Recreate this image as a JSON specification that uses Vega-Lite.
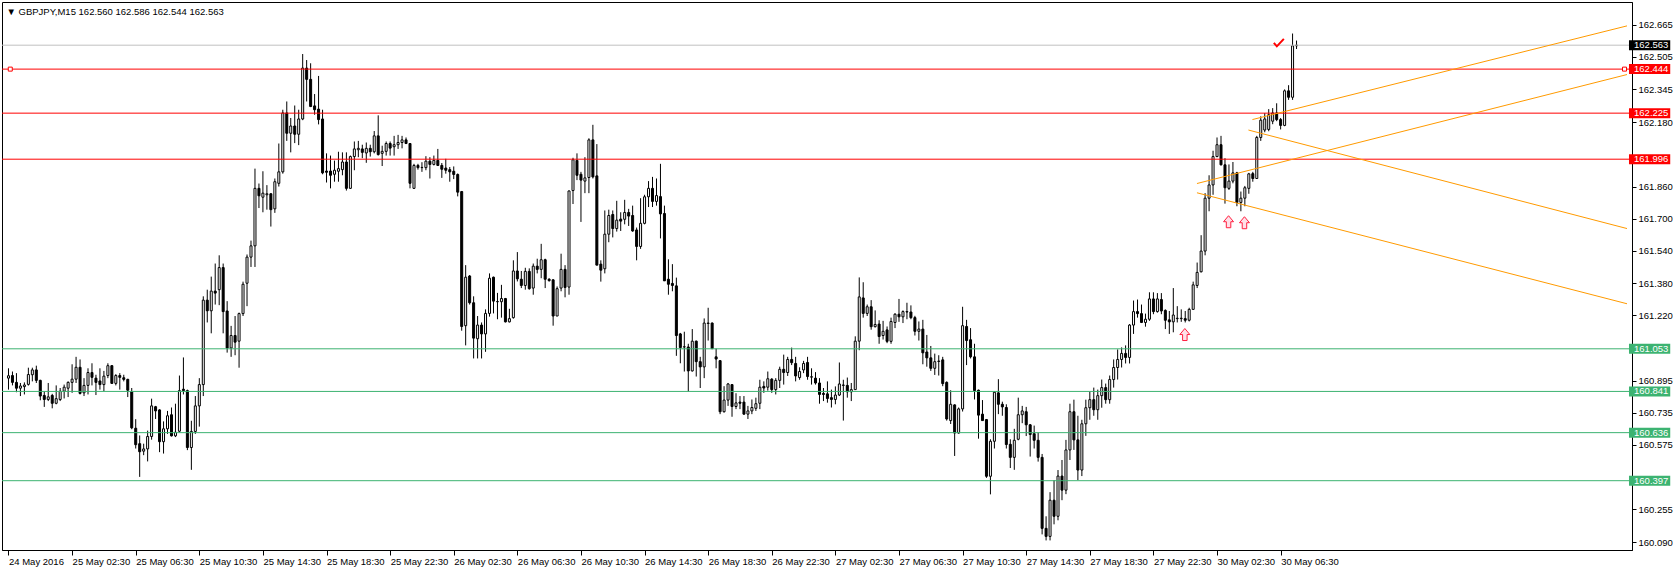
{
  "$schema": "https://vega.github.io/schema/vega-lite/v6.json",
  "width": 1630,
  "height": 548,
  "autosize": {"type": "none"},
  "padding": {"left": 2, "top": 2, "right": 43, "bottom": 21},
  "background": "white",
  "config": {"view": {"stroke": "black", "strokeWidth": 1}, "font": "Liberation Sans"},
  "title": {"text": "▼ GBPJPY,M15  162.560 162.586 162.544 162.563", "anchor": "start", "frame": "group", "orient": "top", "offset": -9, "dy": 10, "dx": 4.5, "baseline": "middle", "font": "Liberation Sans", "fontSize": 9.5, "fontWeight": "normal", "color": "black"},
  "datasets": {
    "candles": [
{"i":0,"o":160.907,"h":160.956,"l":160.850,"c":160.919},
{"i":1,"o":160.920,"h":160.940,"l":160.871,"c":160.886},
{"i":2,"o":160.886,"h":160.932,"l":160.837,"c":160.857},
{"i":3,"o":160.857,"h":160.883,"l":160.818,"c":160.868},
{"i":4,"o":160.865,"h":160.886,"l":160.826,"c":160.873},
{"i":5,"o":160.876,"h":160.959,"l":160.870,"c":160.925},
{"i":6,"o":160.924,"h":160.959,"l":160.891,"c":160.948},
{"i":7,"o":160.948,"h":160.969,"l":160.883,"c":160.896},
{"i":8,"o":160.896,"h":160.899,"l":160.797,"c":160.818},
{"i":9,"o":160.821,"h":160.842,"l":160.764,"c":160.801},
{"i":10,"o":160.801,"h":160.883,"l":160.793,"c":160.814},
{"i":11,"o":160.821,"h":160.829,"l":160.757,"c":160.782},
{"i":12,"o":160.782,"h":160.871,"l":160.777,"c":160.805},
{"i":13,"o":160.801,"h":160.858,"l":160.793,"c":160.842},
{"i":14,"o":160.842,"h":160.875,"l":160.806,"c":160.862},
{"i":15,"o":160.857,"h":160.891,"l":160.813,"c":160.886},
{"i":16,"o":160.886,"h":160.976,"l":160.834,"c":160.902},
{"i":17,"o":160.902,"h":161.013,"l":160.883,"c":160.961},
{"i":18,"o":160.961,"h":161.000,"l":160.826,"c":160.831},
{"i":19,"o":160.834,"h":160.907,"l":160.818,"c":160.871},
{"i":20,"o":160.871,"h":160.956,"l":160.826,"c":160.935},
{"i":21,"o":160.935,"h":160.981,"l":160.871,"c":160.911},
{"i":22,"o":160.907,"h":160.924,"l":160.823,"c":160.886},
{"i":23,"o":160.893,"h":160.956,"l":160.850,"c":160.875},
{"i":24,"o":160.875,"h":160.943,"l":160.842,"c":160.917},
{"i":25,"o":160.920,"h":160.981,"l":160.907,"c":160.969},
{"i":26,"o":160.969,"h":160.972,"l":160.878,"c":160.881},
{"i":27,"o":160.881,"h":160.927,"l":160.871,"c":160.920},
{"i":28,"o":160.920,"h":160.932,"l":160.850,"c":160.911},
{"i":29,"o":160.909,"h":160.924,"l":160.891,"c":160.901},
{"i":30,"o":160.901,"h":160.904,"l":160.813,"c":160.847},
{"i":31,"o":160.839,"h":160.858,"l":160.653,"c":160.660},
{"i":32,"o":160.658,"h":160.703,"l":160.557,"c":160.576},
{"i":33,"o":160.581,"h":160.622,"l":160.416,"c":160.541},
{"i":34,"o":160.544,"h":160.581,"l":160.524,"c":160.555},
{"i":35,"o":160.555,"h":160.646,"l":160.493,"c":160.617},
{"i":36,"o":160.617,"h":160.805,"l":160.601,"c":160.769},
{"i":37,"o":160.765,"h":160.769,"l":160.704,"c":160.744},
{"i":38,"o":160.749,"h":160.752,"l":160.539,"c":160.591},
{"i":39,"o":160.591,"h":160.692,"l":160.532,"c":160.655},
{"i":40,"o":160.655,"h":160.744,"l":160.630,"c":160.720},
{"i":41,"o":160.725,"h":160.761,"l":160.617,"c":160.620},
{"i":42,"o":160.620,"h":160.780,"l":160.614,"c":160.638},
{"i":43,"o":160.643,"h":160.920,"l":160.638,"c":160.845},
{"i":44,"o":160.852,"h":161.010,"l":160.826,"c":160.845},
{"i":45,"o":160.845,"h":160.850,"l":160.549,"c":160.562},
{"i":46,"o":160.562,"h":160.695,"l":160.451,"c":160.642},
{"i":47,"o":160.642,"h":160.818,"l":160.630,"c":160.769},
{"i":48,"o":160.769,"h":160.907,"l":160.666,"c":160.875},
{"i":49,"o":160.875,"h":161.314,"l":160.818,"c":161.295},
{"i":50,"o":161.295,"h":161.347,"l":161.184,"c":161.242},
{"i":51,"o":161.242,"h":161.412,"l":161.130,"c":161.340},
{"i":52,"o":161.340,"h":161.477,"l":161.273,"c":161.330},
{"i":53,"o":161.347,"h":161.518,"l":161.270,"c":161.457},
{"i":54,"o":161.457,"h":161.477,"l":161.130,"c":161.238},
{"i":55,"o":161.241,"h":161.290,"l":161.034,"c":161.057},
{"i":56,"o":161.057,"h":161.167,"l":161.013,"c":161.119},
{"i":57,"o":161.119,"h":161.216,"l":161.021,"c":161.086},
{"i":58,"o":161.091,"h":161.233,"l":160.959,"c":161.228},
{"i":59,"o":161.228,"h":161.387,"l":161.216,"c":161.374},
{"i":60,"o":161.379,"h":161.522,"l":161.265,"c":161.509},
{"i":61,"o":161.509,"h":161.591,"l":161.460,"c":161.565},
{"i":62,"o":161.565,"h":161.949,"l":161.460,"c":161.851},
{"i":63,"o":161.851,"h":161.875,"l":161.753,"c":161.814},
{"i":64,"o":161.807,"h":161.936,"l":161.732,"c":161.827},
{"i":65,"o":161.819,"h":161.867,"l":161.745,"c":161.824},
{"i":66,"o":161.824,"h":161.827,"l":161.661,"c":161.745},
{"i":67,"o":161.749,"h":161.900,"l":161.729,"c":161.884},
{"i":68,"o":161.876,"h":162.074,"l":161.860,"c":161.933},
{"i":69,"o":161.933,"h":162.242,"l":161.924,"c":162.226},
{"i":70,"o":162.226,"h":162.283,"l":162.087,"c":162.125},
{"i":71,"o":162.125,"h":162.201,"l":162.030,"c":162.161},
{"i":72,"o":162.161,"h":162.263,"l":162.076,"c":162.120},
{"i":73,"o":162.120,"h":162.242,"l":162.066,"c":162.196},
{"i":74,"o":162.196,"h":162.519,"l":162.190,"c":162.449},
{"i":75,"o":162.449,"h":162.489,"l":162.283,"c":162.393},
{"i":76,"o":162.393,"h":162.473,"l":162.255,"c":162.258},
{"i":77,"o":162.261,"h":162.320,"l":162.217,"c":162.242},
{"i":78,"o":162.245,"h":162.410,"l":162.169,"c":162.193},
{"i":79,"o":162.196,"h":162.242,"l":161.921,"c":161.928},
{"i":80,"o":161.937,"h":162.025,"l":161.880,"c":161.931},
{"i":81,"o":161.937,"h":162.014,"l":161.851,"c":161.916},
{"i":82,"o":161.921,"h":161.989,"l":161.884,"c":161.941},
{"i":83,"o":161.936,"h":162.033,"l":161.884,"c":161.949},
{"i":84,"o":161.944,"h":162.030,"l":161.916,"c":161.982},
{"i":85,"o":161.982,"h":162.030,"l":161.840,"c":161.851},
{"i":86,"o":161.851,"h":162.014,"l":161.848,"c":162.009},
{"i":87,"o":162.009,"h":162.084,"l":161.941,"c":162.047},
{"i":88,"o":162.043,"h":162.087,"l":162.006,"c":162.050},
{"i":89,"o":162.047,"h":162.068,"l":162.001,"c":162.030},
{"i":90,"o":162.027,"h":162.079,"l":161.978,"c":162.050},
{"i":91,"o":162.050,"h":162.068,"l":162.009,"c":162.033},
{"i":92,"o":162.033,"h":162.136,"l":162.025,"c":162.112},
{"i":93,"o":162.112,"h":162.214,"l":162.014,"c":162.019},
{"i":94,"o":162.025,"h":162.063,"l":161.962,"c":162.035},
{"i":95,"o":162.035,"h":162.084,"l":162.014,"c":162.074},
{"i":96,"o":162.074,"h":162.084,"l":162.014,"c":162.051},
{"i":97,"o":162.058,"h":162.112,"l":162.014,"c":162.068},
{"i":98,"o":162.068,"h":162.117,"l":162.047,"c":162.079},
{"i":99,"o":162.079,"h":162.112,"l":162.050,"c":162.092},
{"i":100,"o":162.092,"h":162.104,"l":162.071,"c":162.074},
{"i":101,"o":162.074,"h":162.074,"l":161.851,"c":161.876},
{"i":102,"o":161.851,"h":161.973,"l":161.848,"c":161.965},
{"i":103,"o":161.965,"h":161.973,"l":161.944,"c":161.954},
{"i":104,"o":161.954,"h":161.981,"l":161.933,"c":161.955},
{"i":105,"o":161.954,"h":162.011,"l":161.941,"c":161.986},
{"i":106,"o":161.986,"h":162.006,"l":161.900,"c":161.970},
{"i":107,"o":161.970,"h":162.014,"l":161.965,"c":161.990},
{"i":108,"o":161.990,"h":162.047,"l":161.962,"c":161.965},
{"i":109,"o":161.965,"h":161.977,"l":161.903,"c":161.946},
{"i":110,"o":161.952,"h":161.998,"l":161.924,"c":161.941},
{"i":111,"o":161.944,"h":161.957,"l":161.884,"c":161.933},
{"i":112,"o":161.936,"h":161.960,"l":161.897,"c":161.920},
{"i":113,"o":161.920,"h":161.925,"l":161.811,"c":161.832},
{"i":114,"o":161.835,"h":161.838,"l":161.143,"c":161.164},
{"i":115,"o":161.168,"h":161.469,"l":161.070,"c":161.409},
{"i":116,"o":161.415,"h":161.420,"l":161.273,"c":161.282},
{"i":117,"o":161.282,"h":161.314,"l":161.005,"c":161.106},
{"i":118,"o":161.103,"h":161.216,"l":161.005,"c":161.171},
{"i":119,"o":161.171,"h":161.184,"l":161.005,"c":161.127},
{"i":120,"o":161.127,"h":161.249,"l":161.038,"c":161.229},
{"i":121,"o":161.229,"h":161.428,"l":161.213,"c":161.404},
{"i":122,"o":161.409,"h":161.412,"l":161.229,"c":161.290},
{"i":123,"o":161.287,"h":161.331,"l":161.200,"c":161.288},
{"i":124,"o":161.287,"h":161.371,"l":161.208,"c":161.303},
{"i":125,"o":161.303,"h":161.306,"l":161.184,"c":161.187},
{"i":126,"o":161.187,"h":161.252,"l":161.184,"c":161.203},
{"i":127,"o":161.208,"h":161.493,"l":161.203,"c":161.440},
{"i":128,"o":161.440,"h":161.534,"l":161.388,"c":161.401},
{"i":129,"o":161.399,"h":161.440,"l":161.355,"c":161.368},
{"i":130,"o":161.368,"h":161.456,"l":161.347,"c":161.438},
{"i":131,"o":161.438,"h":161.453,"l":161.347,"c":161.352},
{"i":132,"o":161.355,"h":161.477,"l":161.322,"c":161.464},
{"i":133,"o":161.464,"h":161.501,"l":161.428,"c":161.448},
{"i":134,"o":161.448,"h":161.575,"l":161.404,"c":161.496},
{"i":135,"o":161.496,"h":161.501,"l":161.355,"c":161.399},
{"i":136,"o":161.399,"h":161.404,"l":161.387,"c":161.392},
{"i":137,"o":161.396,"h":161.399,"l":161.168,"c":161.216},
{"i":138,"o":161.216,"h":161.363,"l":161.216,"c":161.352},
{"i":139,"o":161.355,"h":161.526,"l":161.339,"c":161.448},
{"i":140,"o":161.448,"h":161.469,"l":161.309,"c":161.358},
{"i":141,"o":161.360,"h":161.840,"l":161.322,"c":161.838},
{"i":142,"o":161.840,"h":162.003,"l":161.773,"c":161.993},
{"i":143,"o":161.990,"h":162.025,"l":161.892,"c":161.916},
{"i":144,"o":161.921,"h":161.933,"l":161.684,"c":161.892},
{"i":145,"o":161.887,"h":162.006,"l":161.827,"c":161.903},
{"i":146,"o":161.905,"h":162.100,"l":161.827,"c":162.092},
{"i":147,"o":162.092,"h":162.167,"l":161.900,"c":161.908},
{"i":148,"o":161.913,"h":162.071,"l":161.469,"c":161.469},
{"i":149,"o":161.474,"h":161.493,"l":161.387,"c":161.444},
{"i":150,"o":161.451,"h":161.741,"l":161.428,"c":161.623},
{"i":151,"o":161.623,"h":161.745,"l":161.583,"c":161.716},
{"i":152,"o":161.721,"h":161.741,"l":161.607,"c":161.651},
{"i":153,"o":161.651,"h":161.789,"l":161.636,"c":161.693},
{"i":154,"o":161.698,"h":161.732,"l":161.639,"c":161.688},
{"i":155,"o":161.697,"h":161.794,"l":161.672,"c":161.731},
{"i":156,"o":161.731,"h":161.749,"l":161.664,"c":161.713},
{"i":157,"o":161.716,"h":161.765,"l":161.635,"c":161.639},
{"i":158,"o":161.644,"h":161.656,"l":161.493,"c":161.562},
{"i":159,"o":161.562,"h":161.802,"l":161.550,"c":161.677},
{"i":160,"o":161.677,"h":161.819,"l":161.672,"c":161.809},
{"i":161,"o":161.809,"h":161.887,"l":161.758,"c":161.851},
{"i":162,"o":161.851,"h":161.908,"l":161.758,"c":161.786},
{"i":163,"o":161.786,"h":161.900,"l":161.765,"c":161.815},
{"i":164,"o":161.810,"h":161.973,"l":161.602,"c":161.724},
{"i":165,"o":161.726,"h":161.765,"l":161.391,"c":161.391},
{"i":166,"o":161.399,"h":161.498,"l":161.322,"c":161.374},
{"i":167,"o":161.378,"h":161.474,"l":161.339,"c":161.368},
{"i":168,"o":161.366,"h":161.407,"l":161.018,"c":161.119},
{"i":169,"o":161.127,"h":161.132,"l":160.981,"c":161.059},
{"i":170,"o":161.062,"h":161.138,"l":160.940,"c":161.063},
{"i":171,"o":161.062,"h":161.078,"l":160.840,"c":160.943},
{"i":172,"o":160.943,"h":161.151,"l":160.940,"c":161.091},
{"i":173,"o":161.091,"h":161.094,"l":160.915,"c":160.989},
{"i":174,"o":160.989,"h":161.013,"l":160.858,"c":160.963},
{"i":175,"o":160.963,"h":161.204,"l":160.907,"c":161.181},
{"i":176,"o":161.179,"h":161.257,"l":161.094,"c":161.181},
{"i":177,"o":161.181,"h":161.184,"l":161.051,"c":161.054},
{"i":178,"o":161.013,"h":161.054,"l":160.956,"c":161.002},
{"i":179,"o":160.994,"h":160.997,"l":160.728,"c":160.740},
{"i":180,"o":160.740,"h":160.867,"l":160.736,"c":160.798},
{"i":181,"o":160.798,"h":160.883,"l":160.769,"c":160.878},
{"i":182,"o":160.875,"h":160.875,"l":160.715,"c":160.766},
{"i":183,"o":160.766,"h":160.832,"l":160.753,"c":160.784},
{"i":184,"o":160.788,"h":160.818,"l":160.753,"c":160.782},
{"i":185,"o":160.788,"h":160.818,"l":160.725,"c":160.728},
{"i":186,"o":160.728,"h":160.769,"l":160.704,"c":160.744},
{"i":187,"o":160.744,"h":160.801,"l":160.728,"c":160.761},
{"i":188,"o":160.757,"h":160.810,"l":160.744,"c":160.780},
{"i":189,"o":160.782,"h":160.899,"l":160.753,"c":160.862},
{"i":190,"o":160.866,"h":160.891,"l":160.834,"c":160.858},
{"i":191,"o":160.862,"h":160.940,"l":160.845,"c":160.904},
{"i":192,"o":160.902,"h":160.907,"l":160.834,"c":160.850},
{"i":193,"o":160.850,"h":160.907,"l":160.826,"c":160.896},
{"i":194,"o":160.896,"h":160.964,"l":160.858,"c":160.951},
{"i":195,"o":160.951,"h":161.024,"l":160.875,"c":160.935},
{"i":196,"o":160.935,"h":161.013,"l":160.918,"c":161.000},
{"i":197,"o":161.000,"h":161.059,"l":160.972,"c":160.984},
{"i":198,"o":160.980,"h":161.013,"l":160.891,"c":160.918},
{"i":199,"o":160.910,"h":160.961,"l":160.899,"c":160.940},
{"i":200,"o":160.948,"h":160.993,"l":160.932,"c":160.980},
{"i":201,"o":160.985,"h":161.013,"l":160.899,"c":160.915},
{"i":202,"o":160.912,"h":160.956,"l":160.875,"c":160.914},
{"i":203,"o":160.907,"h":160.937,"l":160.875,"c":160.883},
{"i":204,"o":160.883,"h":160.907,"l":160.780,"c":160.826},
{"i":205,"o":160.831,"h":160.858,"l":160.793,"c":160.826},
{"i":206,"o":160.829,"h":160.891,"l":160.785,"c":160.806},
{"i":207,"o":160.810,"h":160.850,"l":160.761,"c":160.801},
{"i":208,"o":160.801,"h":160.866,"l":160.777,"c":160.823},
{"i":209,"o":160.823,"h":160.985,"l":160.818,"c":160.878},
{"i":210,"o":160.871,"h":160.899,"l":160.696,"c":160.873},
{"i":211,"o":160.871,"h":160.910,"l":160.810,"c":160.839},
{"i":212,"o":160.839,"h":160.883,"l":160.793,"c":160.850},
{"i":213,"o":160.850,"h":161.115,"l":160.850,"c":161.091},
{"i":214,"o":161.091,"h":161.408,"l":161.046,"c":161.311},
{"i":215,"o":161.306,"h":161.384,"l":161.208,"c":161.229},
{"i":216,"o":161.229,"h":161.273,"l":161.216,"c":161.262},
{"i":217,"o":161.262,"h":161.295,"l":161.148,"c":161.163},
{"i":218,"o":161.163,"h":161.244,"l":161.159,"c":161.174},
{"i":219,"o":161.176,"h":161.195,"l":161.078,"c":161.114},
{"i":220,"o":161.119,"h":161.192,"l":161.099,"c":161.140},
{"i":221,"o":161.147,"h":161.164,"l":161.081,"c":161.090},
{"i":222,"o":161.090,"h":161.208,"l":161.078,"c":161.189},
{"i":223,"o":161.184,"h":161.230,"l":161.156,"c":161.225},
{"i":224,"o":161.225,"h":161.301,"l":161.187,"c":161.212},
{"i":225,"o":161.212,"h":161.244,"l":161.181,"c":161.238},
{"i":226,"o":161.236,"h":161.282,"l":161.200,"c":161.238},
{"i":227,"o":161.236,"h":161.269,"l":161.200,"c":161.208},
{"i":228,"o":161.208,"h":161.217,"l":161.119,"c":161.140},
{"i":229,"o":161.140,"h":161.189,"l":161.094,"c":161.151},
{"i":230,"o":161.151,"h":161.197,"l":160.976,"c":161.033},
{"i":231,"o":161.037,"h":161.122,"l":160.964,"c":161.008},
{"i":232,"o":161.008,"h":161.067,"l":160.943,"c":160.956},
{"i":233,"o":160.956,"h":161.029,"l":160.923,"c":160.989},
{"i":234,"o":160.990,"h":161.021,"l":160.920,"c":160.992},
{"i":235,"o":160.998,"h":161.013,"l":160.867,"c":160.880},
{"i":236,"o":160.886,"h":160.891,"l":160.696,"c":160.704},
{"i":237,"o":160.696,"h":160.847,"l":160.679,"c":160.777},
{"i":238,"o":160.774,"h":160.777,"l":160.520,"c":160.634},
{"i":239,"o":160.634,"h":160.761,"l":160.631,"c":160.754},
{"i":240,"o":160.754,"h":161.262,"l":160.741,"c":161.168},
{"i":241,"o":161.164,"h":161.197,"l":160.972,"c":161.094},
{"i":242,"o":161.098,"h":161.156,"l":161.005,"c":161.013},
{"i":243,"o":161.013,"h":161.078,"l":160.801,"c":160.845},
{"i":244,"o":160.847,"h":160.850,"l":160.606,"c":160.723},
{"i":245,"o":160.728,"h":160.798,"l":160.696,"c":160.696},
{"i":246,"o":160.701,"h":160.704,"l":160.411,"c":160.419},
{"i":247,"o":160.419,"h":160.603,"l":160.329,"c":160.593},
{"i":248,"o":160.593,"h":160.842,"l":160.557,"c":160.837},
{"i":249,"o":160.834,"h":160.902,"l":160.728,"c":160.777},
{"i":250,"o":160.777,"h":160.790,"l":160.720,"c":160.764},
{"i":251,"o":160.761,"h":160.777,"l":160.557,"c":160.577},
{"i":252,"o":160.578,"h":160.603,"l":160.460,"c":160.513},
{"i":253,"o":160.513,"h":160.655,"l":160.451,"c":160.598},
{"i":254,"o":160.603,"h":160.810,"l":160.598,"c":160.725},
{"i":255,"o":160.725,"h":160.769,"l":160.683,"c":160.744},
{"i":256,"o":160.740,"h":160.764,"l":160.619,"c":160.675},
{"i":257,"o":160.675,"h":160.679,"l":160.517,"c":160.627},
{"i":258,"o":160.631,"h":160.671,"l":160.557,"c":160.598},
{"i":259,"o":160.598,"h":160.636,"l":160.492,"c":160.513},
{"i":260,"o":160.513,"h":160.530,"l":160.130,"c":160.160},
{"i":261,"o":160.160,"h":160.220,"l":160.100,"c":160.120},
{"i":262,"o":160.120,"h":160.340,"l":160.100,"c":160.300},
{"i":263,"o":160.300,"h":160.400,"l":160.180,"c":160.220},
{"i":264,"o":160.220,"h":160.450,"l":160.200,"c":160.420},
{"i":265,"o":160.420,"h":160.500,"l":160.300,"c":160.350},
{"i":266,"o":160.350,"h":160.600,"l":160.330,"c":160.550},
{"i":267,"o":160.550,"h":160.780,"l":160.500,"c":160.740},
{"i":268,"o":160.740,"h":160.800,"l":160.550,"c":160.600},
{"i":269,"o":160.600,"h":160.720,"l":160.400,"c":160.450},
{"i":270,"o":160.450,"h":160.700,"l":160.420,"c":160.680},
{"i":271,"o":160.680,"h":160.800,"l":160.620,"c":160.760},
{"i":272,"o":160.760,"h":160.840,"l":160.700,"c":160.800},
{"i":273,"o":160.800,"h":160.860,"l":160.720,"c":160.750},
{"i":274,"o":160.750,"h":160.850,"l":160.700,"c":160.820},
{"i":275,"o":160.820,"h":160.900,"l":160.760,"c":160.860},
{"i":276,"o":160.860,"h":160.880,"l":160.780,"c":160.800},
{"i":277,"o":160.800,"h":160.920,"l":160.780,"c":160.900},
{"i":278,"o":160.900,"h":161.000,"l":160.860,"c":160.960},
{"i":279,"o":160.960,"h":161.050,"l":160.900,"c":161.000},
{"i":280,"o":161.000,"h":161.060,"l":160.960,"c":161.030},
{"i":281,"o":161.030,"h":161.070,"l":160.980,"c":161.010},
{"i":282,"o":161.010,"h":161.176,"l":160.980,"c":161.171},
{"i":283,"o":161.171,"h":161.293,"l":161.127,"c":161.238},
{"i":284,"o":161.238,"h":161.298,"l":161.208,"c":161.228},
{"i":285,"o":161.228,"h":161.273,"l":161.181,"c":161.184},
{"i":286,"o":161.184,"h":161.228,"l":161.163,"c":161.200},
{"i":287,"o":161.200,"h":161.334,"l":161.192,"c":161.301},
{"i":288,"o":161.301,"h":161.334,"l":161.225,"c":161.238},
{"i":289,"o":161.238,"h":161.330,"l":161.233,"c":161.301},
{"i":290,"o":161.298,"h":161.330,"l":161.225,"c":161.241},
{"i":291,"o":161.244,"h":161.249,"l":161.151,"c":161.195},
{"i":292,"o":161.197,"h":161.241,"l":161.127,"c":161.187},
{"i":293,"o":161.187,"h":161.355,"l":161.135,"c":161.221},
{"i":294,"o":161.203,"h":161.265,"l":161.184,"c":161.205},
{"i":295,"o":161.203,"h":161.249,"l":161.187,"c":161.205},
{"i":296,"o":161.203,"h":161.241,"l":161.184,"c":161.195},
{"i":297,"o":161.195,"h":161.257,"l":161.189,"c":161.249},
{"i":298,"o":161.249,"h":161.387,"l":161.249,"c":161.371},
{"i":299,"o":161.368,"h":161.482,"l":161.355,"c":161.433},
{"i":300,"o":161.436,"h":161.618,"l":161.433,"c":161.539},
{"i":301,"o":161.539,"h":161.827,"l":161.518,"c":161.802},
{"i":302,"o":161.802,"h":161.916,"l":161.737,"c":161.868},
{"i":303,"o":161.868,"h":162.038,"l":161.819,"c":162.009},
{"i":304,"o":162.009,"h":162.104,"l":162.006,"c":162.068},
{"i":305,"o":162.068,"h":162.112,"l":161.965,"c":161.968},
{"i":306,"o":161.968,"h":162.001,"l":161.775,"c":161.854},
{"i":307,"o":161.851,"h":161.970,"l":161.843,"c":161.887},
{"i":308,"o":161.887,"h":161.982,"l":161.876,"c":161.928},
{"i":309,"o":161.928,"h":161.933,"l":161.762,"c":161.781},
{"i":310,"o":161.781,"h":161.835,"l":161.737,"c":161.802},
{"i":311,"o":161.802,"h":161.863,"l":161.762,"c":161.854},
{"i":312,"o":161.851,"h":161.928,"l":161.824,"c":161.923},
{"i":313,"o":161.924,"h":161.933,"l":161.884,"c":161.900},
{"i":314,"o":161.900,"h":162.112,"l":161.900,"c":162.104},
{"i":315,"o":162.104,"h":162.209,"l":162.087,"c":162.190},
{"i":316,"o":162.141,"h":162.225,"l":162.130,"c":162.196},
{"i":317,"o":162.144,"h":162.245,"l":162.135,"c":162.217},
{"i":318,"o":162.185,"h":162.250,"l":162.170,"c":162.226},
{"i":319,"o":162.226,"h":162.274,"l":162.185,"c":162.193},
{"i":320,"o":162.193,"h":162.201,"l":162.144,"c":162.164},
{"i":321,"o":162.164,"h":162.343,"l":162.160,"c":162.336},
{"i":322,"o":162.336,"h":162.364,"l":162.291,"c":162.304},
{"i":323,"o":162.304,"h":162.621,"l":162.291,"c":162.560},
{"i":324,"o":162.560,"h":162.586,"l":162.544,"c":162.563}
    ],
    "levels": [
      {"p": 162.563, "kind": "bid"},
      {"p": 162.444, "kind": "resistance"},
      {"p": 162.225, "kind": "resistance"},
      {"p": 161.996, "kind": "resistance"},
      {"p": 161.053, "kind": "support"},
      {"p": 160.841, "kind": "support"},
      {"p": 160.636, "kind": "support"},
      {"p": 160.397, "kind": "support"}
    ],
    "trend": [
      {"id": "A", "i": 312.9, "p": 162.193}, {"id": "A", "i": 407.125, "p": 162.659},
      {"id": "B", "i": 298.95, "p": 161.875}, {"id": "B", "i": 407.125, "p": 162.417},
      {"id": "C", "i": 311.9, "p": 162.141}, {"id": "C", "i": 407.125, "p": 161.651},
      {"id": "D", "i": 298.95, "p": 161.829}, {"id": "D", "i": 407.125, "p": 161.277}
    ],
    "arrows": [
      {"i": 306.9, "p": 161.685},
      {"i": 310.9, "p": 161.680},
      {"i": 295.9, "p": 161.124}
    ],
    "checks": [{"i": 319.55, "p": 162.572}],
    "handles": [{"i": 0.45, "p": 162.444}, {"i": 406.5, "p": 162.444}]
  },
  "encoding": {
    "x": {"type": "quantitative", "scale": {"domain": [-0.375, 407.125], "nice": false, "zero": false},
      "axis": {"orient": "bottom", "values": [0,16,32,48,64,80,96,112,128,144,160,176,192,208,224,240,256,272,288,304,320],
        "labelExpr": "['24 May 2016','25 May 02:30','25 May 06:30','25 May 10:30','25 May 14:30','25 May 18:30','25 May 22:30','26 May 02:30','26 May 06:30','26 May 10:30','26 May 14:30','26 May 18:30','26 May 22:30','27 May 02:30','27 May 06:30','27 May 10:30','27 May 14:30','27 May 18:30','27 May 22:30','30 May 02:30','30 May 06:30'][round(datum.value/16)]",
        "title": null, "grid": false, "domainColor": "black", "tickColor": "black", "tickSize": 5, "labelAlign": "left", "labelBaseline": "top", "labelPadding": 1, "labelFont": "Liberation Sans", "labelFontSize": 9.5, "labelColor": "black", "labelOverlap": false, "labelFlush": false}},
    "y": {"type": "quantitative", "scale": {"domain": [160.0772, 162.7529], "nice": false, "zero": false},
      "axis": {"orient": "right", "values": [162.665,162.505,162.345,162.18,161.86,161.7,161.54,161.38,161.22,160.895,160.735,160.575,160.255,160.09],
        "format": ".3f", "title": null, "grid": false, "domainColor": "black", "tickColor": "black", "tickSize": 4, "labelAlign": "left", "labelBaseline": "middle", "labelPadding": 2, "labelFont": "Liberation Sans", "labelFontSize": 9.5, "labelColor": "black", "labelOverlap": false}}
  },
  "layer": [
    {
      "data": {"name": "candles"},
      "mark": {"type": "rule", "color": "black", "strokeWidth": 1},
      "encoding": {
        "x": {"field": "i"},
        "y": {"field": "l"},
        "y2": {"field": "h"}
      }
    },
    {
      "data": {"name": "candles"},
      "mark": {"type": "bar", "size": 2, "stroke": "black", "strokeWidth": 1},
      "encoding": {
        "x": {"field": "i"},
        "y": {"field": "o"},
        "y2": {"field": "c"},
        "fill": {"condition": {"test": "datum.c >= datum.o", "value": "white"}, "value": "black"}
      }
    },
    {
      "data": {"name": "levels"},
      "mark": {"type": "rule", "strokeWidth": 1},
      "encoding": {
        "y": {"field": "p"},
        "color": {"field": "kind", "type": "nominal", "scale": {"domain": ["bid", "resistance", "support"], "range": ["#C0C0C0", "#FF0000", "#3CB371"]}, "legend": null}
      }
    },
    {
      "data": {"name": "trend"},
      "mark": {"type": "line", "color": "#FF9A00", "strokeWidth": 1},
      "encoding": {
        "x": {"field": "i"},
        "y": {"field": "p"},
        "detail": {"field": "id"}
      }
    },
    {
      "data": {"name": "handles"},
      "mark": {"type": "point", "shape": "square", "size": 16, "filled": true, "fill": "white", "stroke": "#FF0000", "strokeWidth": 1, "opacity": 1},
      "encoding": {
        "x": {"field": "i"},
        "y": {"field": "p"}
      }
    },
    {
      "data": {"name": "arrows"},
      "mark": {"type": "point", "shape": "M0,-1.2L1,0L0.45,0L0.45,1.2L-0.45,1.2L-0.45,0L-1,0Z", "size": 100, "filled": true, "fill": "#FFE0E8", "stroke": "#FF2040", "strokeWidth": 1, "opacity": 1},
      "encoding": {
        "x": {"field": "i"},
        "y": {"field": "p"}
      }
    },
    {
      "data": {"name": "checks"},
      "mark": {"type": "point", "shape": "M-1,-0.1L-0.4,0.6L1,-0.9", "size": 100, "filled": false, "stroke": "#FF0000", "strokeWidth": 2, "opacity": 1},
      "encoding": {
        "x": {"field": "i"},
        "y": {"field": "p"}
      }
    },
    {
      "data": {"name": "levels"},
      "mark": {"type": "bar", "size": 10, "clip": false},
      "encoding": {
        "x": {"datum": 407.625},
        "x2": {"datum": 418},
        "y": {"field": "p"},
        "fill": {"field": "kind", "type": "nominal", "scale": {"domain": ["bid", "resistance", "support"], "range": ["#000000", "#FF0000", "#3CB371"]}, "legend": null}
      }
    },
    {
      "data": {"name": "levels"},
      "mark": {"type": "text", "align": "left", "baseline": "middle", "font": "Liberation Sans", "fontSize": 9.5, "color": "white", "clip": false},
      "encoding": {
        "x": {"datum": 408.9},
        "y": {"field": "p"},
        "text": {"field": "p", "type": "quantitative", "format": ".3f"}
      }
    }
  ]
}
